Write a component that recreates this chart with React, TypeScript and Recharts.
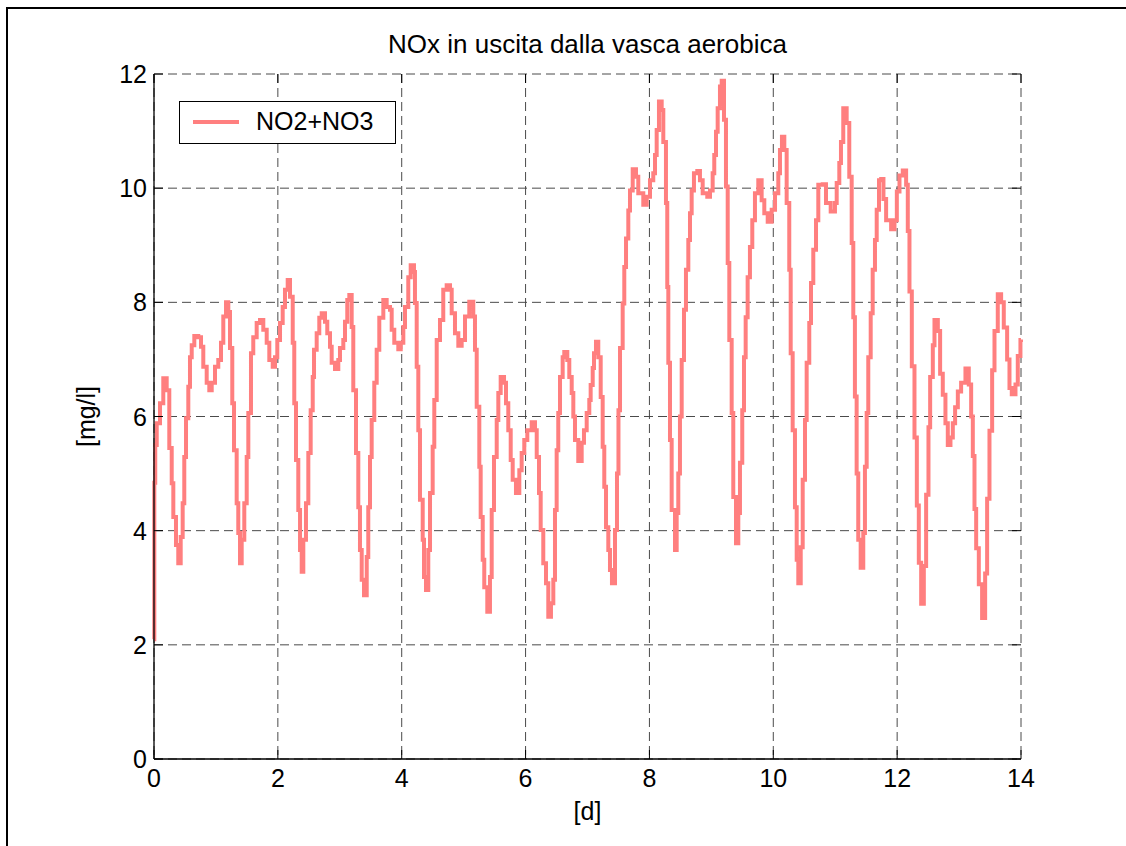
import React from "react";
import { LineChart, Line, XAxis, YAxis, CartesianGrid, Legend } from "recharts";

const days = [
  0, 0.005, 0.02, 0.044, 0.097, 0.15, 0.205, 0.247, 0.286, 0.312, 0.355, 0.392, 0.431, 0.463, 0.489, 0.517, 0.554, 0.581, 0.609, 0.651,
  0.715, 0.759, 0.796, 0.851, 0.893, 0.932, 0.985, 1.038, 1.082, 1.119, 1.163, 1.2, 1.227, 1.264, 1.292, 1.335, 1.361, 1.389, 1.416, 1.458,
  1.497, 1.523, 1.566, 1.603, 1.658, 1.712, 1.765, 1.82, 1.862, 1.917, 1.954, 1.991, 2.035, 2.078, 2.115, 2.159, 2.196, 2.24, 2.265, 2.293,
  2.33, 2.358, 2.385, 2.411, 2.454, 2.492, 2.53, 2.563, 2.584, 2.627, 2.669, 2.708, 2.761, 2.798, 2.842, 2.869, 2.923, 2.976, 3.003, 3.057,
  3.084, 3.121, 3.154, 3.192, 3.218, 3.262, 3.299, 3.326, 3.354, 3.391, 3.435, 3.46, 3.488, 3.515, 3.557, 3.596, 3.638, 3.703, 3.757, 3.811,
  3.838, 3.88, 3.945, 3.984, 4.026, 4.053, 4.106, 4.145, 4.198, 4.214, 4.242, 4.268, 4.295, 4.339, 4.36, 4.392, 4.429, 4.457, 4.5, 4.526,
  4.565, 4.618, 4.671, 4.726, 4.78, 4.807, 4.86, 4.914, 4.968, 5.022, 5.091, 5.156, 5.183, 5.211, 5.253, 5.275, 5.308, 5.333, 5.382, 5.425,
  5.453, 5.49, 5.534, 5.56, 5.598, 5.652, 5.684, 5.721, 5.76, 5.792, 5.845, 5.899, 5.937, 5.979, 6.028, 6.099, 6.152, 6.18, 6.217, 6.244,
  6.286, 6.33, 6.367, 6.41, 6.448, 6.475, 6.502, 6.528, 6.556, 6.599, 6.625, 6.674, 6.706, 6.745, 6.771, 6.798, 6.851, 6.906, 6.943, 6.987,
  7.029, 7.051, 7.084, 7.105, 7.137, 7.174, 7.213, 7.245, 7.271, 7.299, 7.336, 7.363, 7.395, 7.444, 7.476, 7.5, 7.525, 7.568, 7.594, 7.622,
  7.659, 7.686, 7.73, 7.783, 7.82, 7.901, 7.956, 8.009, 8.062, 8.09, 8.117, 8.154, 8.198, 8.224, 8.267, 8.288, 8.305, 8.332, 8.359, 8.413,
  8.44, 8.466, 8.493, 8.521, 8.558, 8.59, 8.628, 8.655, 8.682, 8.719, 8.773, 8.816, 8.86, 8.934, 8.978, 9.021, 9.047, 9.075, 9.102, 9.139,
  9.167, 9.204, 9.236, 9.264, 9.29, 9.328, 9.354, 9.398, 9.435, 9.462, 9.499, 9.527, 9.554, 9.586, 9.623, 9.661, 9.704, 9.758, 9.812, 9.855,
  9.91, 9.974, 10.028, 10.081, 10.108, 10.14, 10.178, 10.216, 10.258, 10.281, 10.313, 10.35, 10.378, 10.404, 10.443, 10.475, 10.512, 10.539, 10.581, 10.609,
  10.646, 10.69, 10.727, 10.798, 10.851, 10.927, 10.996, 11.024, 11.066, 11.093, 11.13, 11.185, 11.227, 11.266, 11.292, 11.318, 11.346, 11.372, 11.411, 11.453,
  11.48, 11.508, 11.534, 11.573, 11.605, 11.642, 11.67, 11.707, 11.742, 11.779, 11.822, 11.903, 11.957, 11.995, 12.038, 12.091, 12.145, 12.172, 12.199, 12.237,
  12.28, 12.318, 12.35, 12.388, 12.431, 12.468, 12.506, 12.533, 12.576, 12.603, 12.657, 12.694, 12.737, 12.78, 12.818, 12.861, 12.899, 12.936, 12.98, 13.033,
  13.103, 13.157, 13.195, 13.222, 13.249, 13.276, 13.319, 13.372, 13.421, 13.453, 13.491, 13.534, 13.572, 13.625, 13.679, 13.722, 13.776, 13.814, 13.851, 13.911,
  13.948, 13.991, 14,
];

const noxValues = [
  2.1, 4.84, 5.5, 5.88, 6.23, 6.67, 6.46, 5.45, 4.83, 4.24, 3.75, 3.43, 3.89, 4.48, 5.29, 5.97, 6.52, 7.04, 7.25, 7.41,
  7.39, 7.22, 6.87, 6.59, 6.46, 6.59, 6.87, 6.99, 7.29, 7.75, 8.0, 7.83, 7.2, 6.23, 5.41, 4.48, 3.96, 3.43, 3.84, 4.48,
  5.29, 6.06, 7.11, 7.39, 7.64, 7.69, 7.52, 7.29, 6.99, 6.87, 7.04, 7.34, 7.64, 7.92, 8.22, 8.39, 8.1, 7.29, 6.23, 5.24,
  4.36, 3.66, 3.28, 3.84, 4.48, 5.36, 6.11, 6.69, 7.17, 7.46, 7.73, 7.81, 7.66, 7.46, 7.22, 6.94, 6.83, 6.99, 7.2, 7.34,
  7.66, 8.04, 8.13, 7.57, 6.46, 5.36, 4.41, 3.66, 3.14, 2.87, 3.54, 4.41, 5.29, 5.94, 6.59, 7.17, 7.73, 8.04, 7.92, 7.87,
  7.52, 7.29, 7.18, 7.29, 7.57, 7.92, 8.44, 8.65, 8.53, 7.99, 6.87, 5.76, 4.54, 3.84, 3.19, 2.96, 3.66, 4.66, 5.47, 6.29,
  7.34, 7.69, 8.22, 8.3, 8.22, 7.81, 7.46, 7.24, 7.34, 7.75, 8.01, 7.75, 7.17, 6.17, 5.12, 4.24, 3.49, 3.01, 2.58, 3.19,
  4.36, 5.29, 5.94, 6.41, 6.69, 6.59, 6.23, 5.76, 5.24, 4.89, 4.66, 5.06, 5.36, 5.59, 5.76, 5.9, 5.76, 5.29, 4.66, 4.01,
  3.43, 3.08, 2.49, 2.73, 3.14, 4.36, 5.41, 6.06, 6.69, 7.04, 7.13, 6.99, 6.69, 6.41, 6.0, 5.59, 5.22, 5.54, 5.76, 6.06,
  6.29, 6.55, 6.85, 7.11, 7.31, 7.04, 6.34, 5.47, 4.77, 4.06, 3.66, 3.31, 3.08, 4.01, 5.0, 6.11, 7.2, 7.98, 8.62, 9.12,
  9.61, 9.96, 10.33, 10.2, 9.91, 9.71, 9.85, 10.14, 10.26, 10.58, 11.02, 11.52, 11.37, 10.81, 9.74, 8.27, 6.94, 5.59, 4.36, 3.66,
  4.31, 5.0, 6.0, 6.99, 7.87, 8.57, 9.09, 9.56, 9.96, 10.26, 10.3, 10.14, 9.91, 9.85, 9.96, 10.26, 10.58, 10.99, 11.4, 11.78,
  11.88, 11.2, 10.03, 8.69, 7.34, 6.06, 4.59, 3.78, 4.31, 5.19, 6.11, 7.04, 7.74, 8.44, 8.97, 9.44, 9.91, 10.14, 9.79, 9.56,
  9.41, 9.62, 9.91, 10.26, 10.67, 10.9, 10.67, 9.74, 8.57, 7.11, 5.76, 4.41, 3.49, 3.08, 3.71, 4.89, 5.94, 6.94, 7.64, 8.34,
  8.92, 9.44, 10.06, 10.07, 9.74, 9.59, 9.74, 10.09, 10.44, 10.81, 11.4, 11.14, 10.2, 9.04, 7.74, 6.35, 5.0, 3.84, 3.35, 3.96,
  5.12, 6.06, 7.04, 7.81, 8.57, 9.09, 9.62, 10.14, 10.16, 9.81, 9.44, 9.28, 9.44, 9.94, 10.22, 10.31, 10.06, 9.25, 8.19, 6.88,
  5.63, 4.44, 3.44, 2.72, 3.38, 4.63, 5.81, 6.69, 7.25, 7.69, 7.5, 6.75, 6.38, 5.88, 5.5, 5.63, 5.88, 6.16, 6.44, 6.59,
  6.84, 6.56, 6.0, 5.31, 4.38, 3.69, 3.06, 2.47, 3.25, 4.56, 5.75, 6.81, 7.5, 8.14, 8.0, 7.56, 7.0, 6.5, 6.39, 6.56,
  7.06, 7.34, 7.35,
];

const xTicks = [0, 2, 4, 6, 8, 10, 12, 14];
const yTicks = [0, 2, 4, 6, 8, 10, 12];
const seriesName = "NO2+NO3";
const chartTitle = "NOx in uscita dalla vasca aerobica";
const xLabel = "[d]";
const yLabel = "[mg/l]";

const data = days.map((d, i) => ({ d, v: noxValues[i] }));

const W = 1126;
const H = 846;
const PLOT_LEFT = 154;
const PLOT_TOP = 74;
const PLOT_RIGHT = 1021;
const PLOT_BOTTOM = 759;
const Y_AXIS_W = 70;
const X_AXIS_H = 50;
const TICK_LEN = 9;
const FONT = "'Liberation Sans', Arial, Helvetica, sans-serif";
const FS = 25;
const LINE_COLOR = "#ff7f7f";

const XTick = (props: any) => {
  const { x, payload } = props;
  return (
    <g>
      <line x1={x} x2={x} y1={PLOT_BOTTOM} y2={PLOT_BOTTOM - TICK_LEN} stroke="#000" strokeWidth={1} />
      <line x1={x} x2={x} y1={PLOT_TOP} y2={PLOT_TOP + TICK_LEN} stroke="#000" strokeWidth={1} />
      <text x={x} y={PLOT_BOTTOM + 28} textAnchor="middle" fontFamily={FONT} fontSize={FS} fill="#000">
        {payload.value}
      </text>
    </g>
  );
};

const YTick = (props: any) => {
  const { y, payload } = props;
  return (
    <g>
      <line x1={PLOT_LEFT} x2={PLOT_LEFT + TICK_LEN} y1={y} y2={y} stroke="#000" strokeWidth={1} />
      <line x1={PLOT_RIGHT - TICK_LEN} x2={PLOT_RIGHT} y1={y} y2={y} stroke="#000" strokeWidth={1} />
      <text x={PLOT_LEFT - 7} y={y + 9} textAnchor="end" fontFamily={FONT} fontSize={FS} fill="#000">
        {payload.value}
      </text>
    </g>
  );
};

const LegendBox = () => (
  <svg width={217} height={43} style={{ display: "block" }}>
    <rect x={0.5} y={0.5} width={216} height={42} fill="#fff" stroke="#000" strokeWidth={1} />
    <line x1={14} x2={60} y1={21} y2={21} stroke={LINE_COLOR} strokeWidth={4} />
    <text x={77} y={29} fontFamily={FONT} fontSize={FS} fill="#000">
      {seriesName}
    </text>
  </svg>
);

export default function App() {
  return (
    <div style={{ position: "absolute", left: 0, top: 0, width: W, height: H, background: "#fff", overflow: "hidden" }}>
      <div
        style={{
          position: "absolute",
          left: 6,
          top: 7,
          width: W - 6,
          height: H - 7,
          boxSizing: "border-box",
          borderLeft: "2px solid #000",
          borderTop: "2px solid #000",
        }}
      />
      <div
        style={{
          position: "absolute",
          left: PLOT_LEFT,
          width: PLOT_RIGHT - PLOT_LEFT,
          top: 31,
          textAlign: "center",
          fontFamily: FONT,
          fontSize: 26,
          lineHeight: "26px",
          color: "#000",
          whiteSpace: "nowrap",
        }}
      >
        {chartTitle}
      </div>
      <div style={{ position: "absolute", left: 0, top: 0 }}>
        <LineChart
          width={W}
          height={H}
          data={data}
          margin={{
            top: PLOT_TOP,
            right: W - PLOT_RIGHT,
            bottom: H - PLOT_BOTTOM - X_AXIS_H,
            left: PLOT_LEFT - Y_AXIS_W,
          }}
        >
          <CartesianGrid stroke="#4a4a4a" strokeDasharray="9 5" strokeWidth={1} />
          <XAxis
            dataKey="d"
            type="number"
            domain={[0, 14]}
            ticks={xTicks}
            interval={0}
            height={X_AXIS_H}
            tickLine={false}
            tickSize={0}
            tick={<XTick />}
            axisLine={{ stroke: "#000", strokeWidth: 1.3 }}
            label={{ value: xLabel, position: "bottom", offset: -7, fontFamily: FONT, fontSize: FS, fill: "#000" }}
          />
          <XAxis
            xAxisId="top"
            orientation="top"
            dataKey="d"
            type="number"
            domain={[0, 14]}
            ticks={xTicks}
            height={0}
            tick={false}
            tickLine={false}
            axisLine={{ stroke: "#000", strokeWidth: 1.3 }}
          />
          <YAxis
            type="number"
            domain={[0, 12]}
            ticks={yTicks}
            interval={0}
            width={Y_AXIS_W}
            tickLine={false}
            tickSize={0}
            tick={<YTick />}
            axisLine={{ stroke: "#000", strokeWidth: 1.3 }}
            label={{
              value: yLabel,
              angle: -90,
              position: "insideLeft",
              offset: 2,
              fontFamily: FONT,
              fontSize: FS,
              fill: "#000",
              style: { textAnchor: "middle" },
            }}
          />
          <YAxis
            yAxisId="right"
            orientation="right"
            type="number"
            domain={[0, 12]}
            ticks={yTicks}
            width={0}
            tick={false}
            tickLine={false}
            axisLine={{ stroke: "#000", strokeWidth: 1.3 }}
          />
          <Legend
            layout="horizontal"
            verticalAlign="middle"
            align="center"
            content={<LegendBox />}
            wrapperStyle={{ position: "absolute", left: 179, top: 101, width: 217, height: 43 }}
          />
          <Line
            type="stepAfter"
            dataKey="v"
            name={seriesName}
            stroke={LINE_COLOR}
            strokeWidth={4}
            dot={false}
            activeDot={false}
            isAnimationActive={false}
          />
        </LineChart>
      </div>
    </div>
  );
}
